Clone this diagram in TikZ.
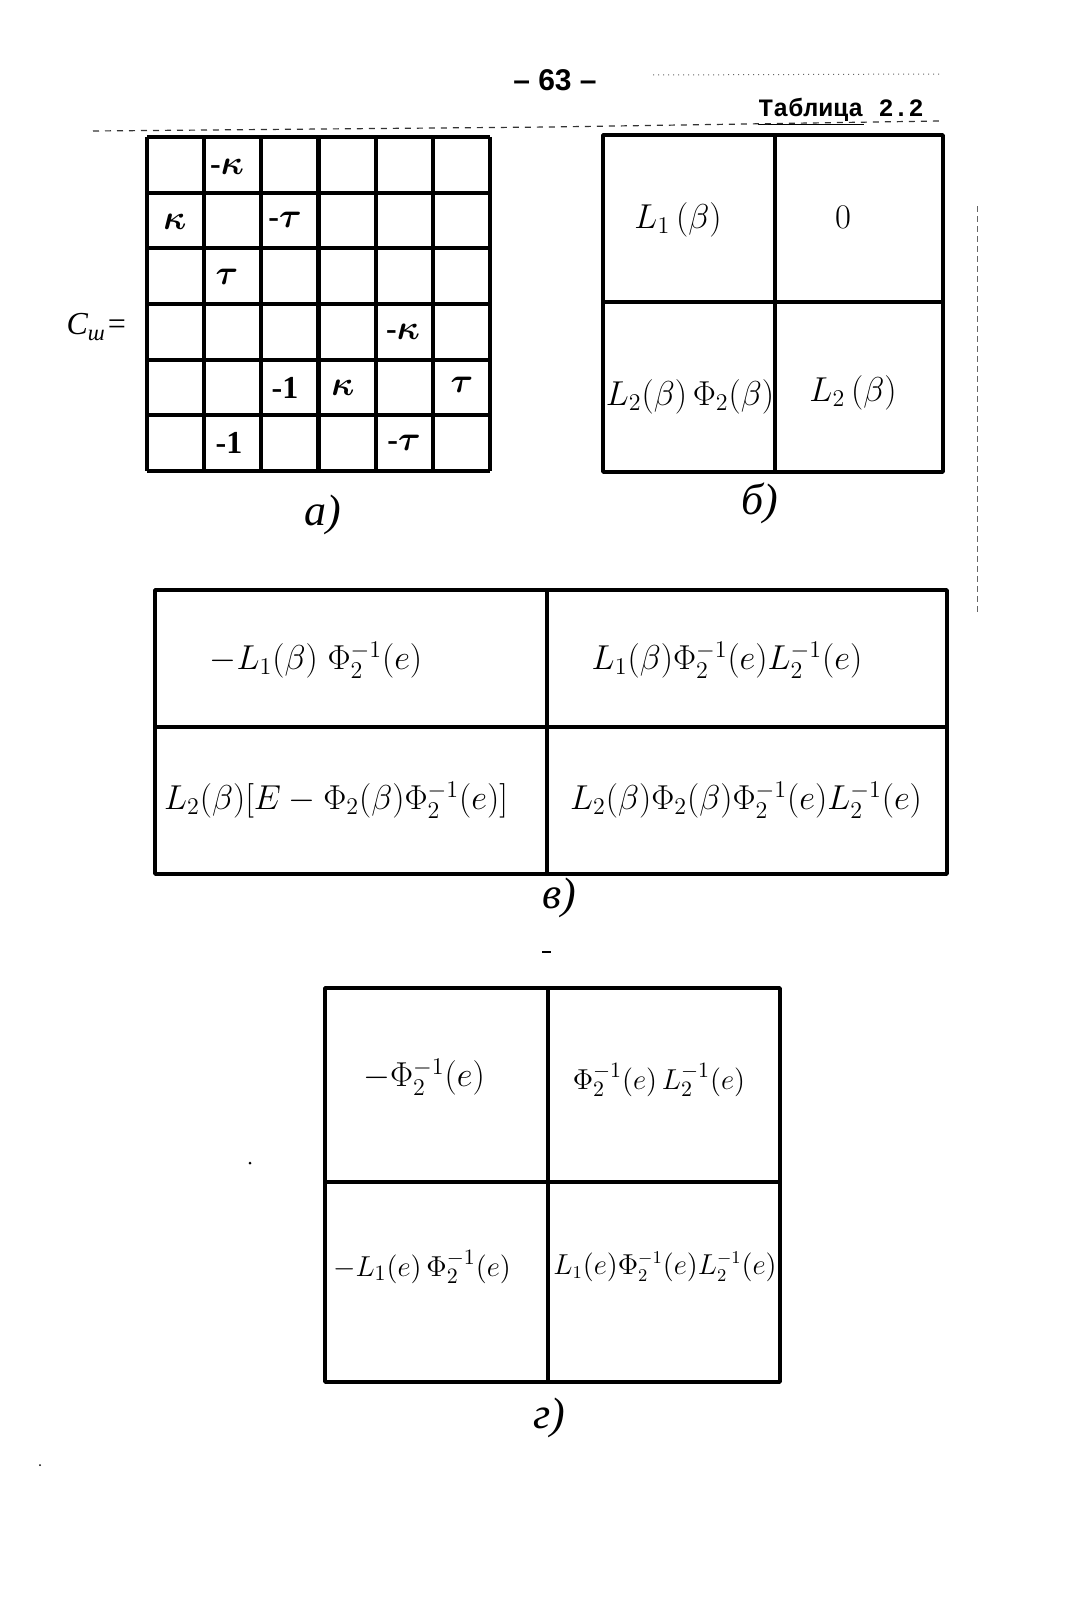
\documentclass[tikz,border=0pt]{standalone}
\usepackage{fontspec}
\setmainfont{Liberation Serif}
\newfontfamily\typefont{Liberation Mono}
\newfontfamily\pagefont{Liberation Sans}
\begin{document}
\begin{tikzpicture}[x=0.5pt,y=-0.5pt,
  gridline/.style={line width=2.1pt,line join=round},
  tabline/.style={line width=1.8pt,line join=round},
  speck/.style={line width=0.5pt,densely dashed,black!60},
  cellt/.style={font=\fontsize{17}{20}\selectfont,inner sep=0pt},
  gridt/.style={font=\boldmath\bfseries\fontsize{16}{18}\selectfont,inner sep=0pt},
  lab/.style={font=\fontsize{22}{24}\selectfont\itshape,inner sep=0pt}]
\useasboundingbox (0,0) rectangle (1091,1600);
\fill[white] (0,0) rectangle (1091,1600);

% header
\node[font=\fontsize{15}{17}\selectfont\pagefont\bfseries] (page) at (555,80) {– 63 –};
\node[font=\fontsize{12.5}{14}\selectfont\typefont\bfseries,inner sep=0pt] (title) at (841,112) {\underline{Таблица} 2.2};
\draw[speck,dotted] (653,75) -- (940,74);
\draw[line width=0.6pt,dashed,black!80] (93,131) -- (550,127) -- (940,121);
\draw[speck] (977,206) -- (977,612);

% grid a
\foreach \i in {0,...,6} {
  \draw[gridline] ({147+\i*57.17},137) -- ({147+\i*57.17},471);
  \draw[gridline] (147,{137+\i*55.67}) -- (490,{137+\i*55.67});
}
\node[font=\fontsize{16}{18}\selectfont\itshape,inner sep=0pt] (cw) at (97,327) {C\textsubscript{ш}=};
\node[gridt] (g12) at (227,167) {-$\kappa$};
\node[gridt] (g21) at (175,222) {$\kappa$};
\node[gridt] (g23) at (285,220) {-$\tau$};
\node[gridt] (g32) at (227,277) {$\tau$};
\node[gridt] (g45) at (403,332) {-$\kappa$};
\node[gridt] (g53) at (285,388) {-1};
\node[gridt] (g54) at (343,388) {$\kappa$};
\node[gridt] (g56) at (462,385) {$\tau$};
\node[gridt] (g62) at (229,443) {-1};
\node[gridt] (g65) at (404,443) {-$\tau$};
\node[lab] (la) at (323,515) {а)};

% table b
\draw[tabline] (603,135) rectangle (943,472);
\draw[tabline] (775,135) -- (775,472);
\draw[tabline] (603,302) -- (943,302);
\node[cellt] (b11) at (678,220) {$L_1\,(\beta)$};
\node[cellt] (b12) at (843,217) {$0$};
\node[cellt] (b21) at (690,397) {$L_2(\beta)\,\Phi_2(\beta)$};
\node[cellt] (b22) at (853,393) {$L_2\,(\beta)$};
\node[lab] (lb) at (760,503) {б)};

% table v
\draw[tabline] (155,590) rectangle (947,874);
\draw[tabline] (547,590) -- (547,874);
\draw[tabline] (155,727) -- (947,727);
\node[cellt] (v11) at (316,660) {$-L_1(\beta)\;\Phi_2^{-1}(e)$};
\node[cellt] (v12) at (727,660) {$L_1(\beta)\Phi_2^{-1}(e)L_2^{-1}(e)$};
\node[cellt] (v21) at (336,800) {$L_2(\beta)[E-\Phi_2(\beta)\Phi_2^{-1}(e)]$};
\node[cellt] (v22) at (746,800) {$L_2(\beta)\Phi_2(\beta)\Phi_2^{-1}(e)L_2^{-1}(e)$};
\node[lab] (lv) at (559,898) {в)};
\draw[line width=1pt] (542,952) -- (551,952);

% table g
\draw[tabline] (325,988) rectangle (780,1382);
\draw[tabline] (548,988) -- (548,1382);
\draw[tabline] (325,1182) -- (780,1182);
\node[cellt] (g11) at (424,1077) {$-\Phi_2^{-1}(e)$};
\node[cellt,font=\fontsize{15}{18}\selectfont] (g12t) at (659,1080) {$\Phi_2^{-1}(e)\,L_2^{-1}(e)$};
\node[cellt,font=\fontsize{15.5}{18}\selectfont] (g21t) at (422,1267) {$-L_1(e)\,\Phi_2^{-1}(e)$};
\node[cellt,font=\fontsize{13.3}{16}\selectfont] (g22t) at (665,1267) {$L_1(e)\Phi_2^{-1}(e)L_2^{-1}(e)$};
\node[lab] (lg) at (549,1418) {г)};
\fill (250,1163) circle (1.5);
\fill (40,1465) circle (1);
\end{tikzpicture}
\end{document}
